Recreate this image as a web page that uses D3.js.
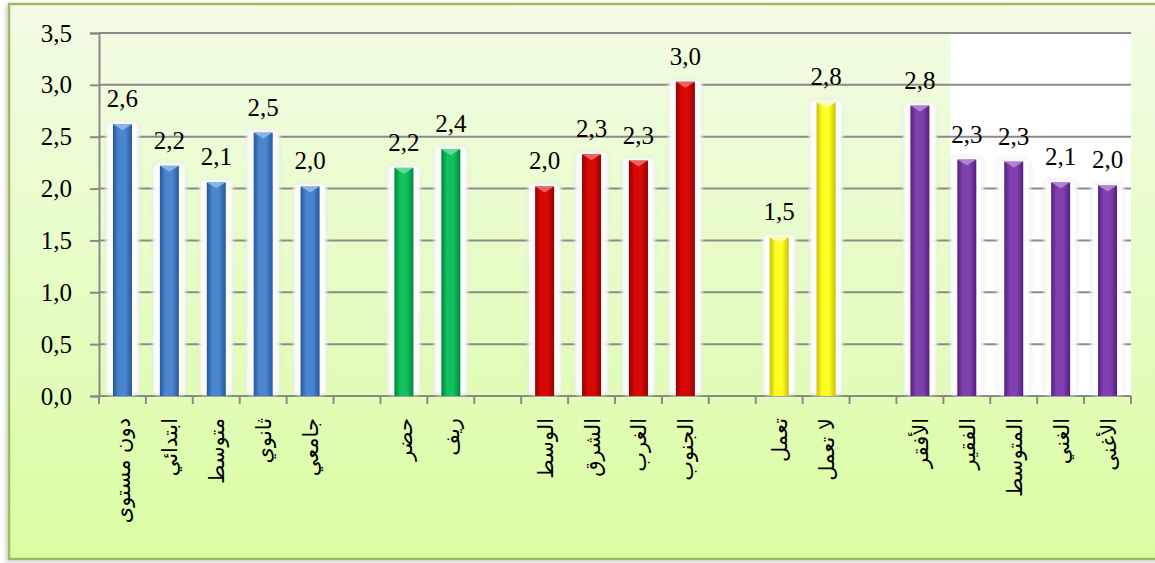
<!DOCTYPE html>
<html>
<head>
<meta charset="utf-8">
<script src="https://cdn.jsdelivr.net/npm/d3@7"></script>
<style>
  html, body { margin: 0; padding: 0; background: #ffffff; }
  svg { display: block; }
  .num { font-family: "Liberation Serif", "Times New Roman", Times, "DejaVu Serif", "Noto Serif", serif; font-size: 25px; fill: #000; }
  .cat { font-family: "DejaVu Sans", sans-serif; font-size: 21px; fill: #000; }
</style>
</head>
<body>
<svg id="chart" width="1155" height="563"></svg>
<script>
// Category labels, left to right, with empty slots between the groups
const categories = [
  "دون مستوى", "ابتدائي", "متوسط", "ثانوي", "جامعي", "",
  "حضر", "ريف", "",
  "الوسط", "الشرق", "الغرب", "الجنوب", "",
  "تعمل", "لا تعمل", "",
  "الأفقر", "الفقير", "المتوسط", "الغني", "الأغنى"
];
// Mean values per category (null = gap slot)
const values = [
  2.62, 2.22, 2.06, 2.54, 2.02, null,
  2.20, 2.38, null,
  2.02, 2.33, 2.27, 3.03, null,
  1.53, 2.83, null,
  2.80, 2.28, 2.26, 2.06, 2.03
];
// Group of each slot (colour family)
const groups = [
  "edu", "edu", "edu", "edu", "edu", null,
  "area", "area", null,
  "region", "region", "region", "region", null,
  "work", "work", null,
  "wealth", "wealth", "wealth", "wealth", "wealth"
];
const yTicks = [0, 0.5, 1, 1.5, 2, 2.5, 3, 3.5];

const palette = {
  edu:    { mid: "#4a86cf", dark: "#28579a", cap: "#8fb8ea" },
  area:   { mid: "#12c05e", dark: "#00873a", cap: "#6be09c" },
  region: { mid: "#d80808", dark: "#950000", cap: "#f06a6a" },
  work:   { mid: "#ffff20", dark: "#c8c000", cap: "#ffffa8" },
  wealth: { mid: "#8040b0", dark: "#55207e", cap: "#b48ad6" }
};

const svg = d3.select("#chart");
const defs = svg.append("defs");

// Chart area background
const bg = defs.append("linearGradient").attr("id", "bgGrad")
  .attr("x1", 0).attr("y1", 0).attr("x2", 0).attr("y2", 1);
bg.append("stop").attr("offset", "0%").attr("stop-color", "#f2fce6");
bg.append("stop").attr("offset", "100%").attr("stop-color", "#dafda2");

const shadow = defs.append("filter").attr("id", "frameShadow")
  .attr("x", "-5%").attr("y", "-5%").attr("width", "110%").attr("height", "110%");
shadow.append("feDropShadow").attr("dx", -2).attr("dy", 2).attr("stdDeviation", 2)
  .attr("flood-color", "#000").attr("flood-opacity", 0.18);

const glow = defs.append("filter").attr("id", "glow")
  .attr("x", "-50%").attr("y", "-10%").attr("width", "200%").attr("height", "120%");
glow.append("feGaussianBlur").attr("stdDeviation", 1.5);

Object.entries(palette).forEach(([k, c]) => {
  const g = defs.append("linearGradient").attr("id", "bar-" + k)
    .attr("x1", 0).attr("y1", 0).attr("x2", 1).attr("y2", 0);
  g.append("stop").attr("offset", "0%").attr("stop-color", c.dark);
  g.append("stop").attr("offset", "30%").attr("stop-color", c.mid);
  g.append("stop").attr("offset", "65%").attr("stop-color", c.mid);
  g.append("stop").attr("offset", "100%").attr("stop-color", c.dark);
});

// Outer frame
svg.append("rect")
  .attr("x", 9).attr("y", 4).attr("width", 1160).attr("height", 555)
  .attr("fill", "url(#bgGrad)")
  .attr("stroke", "#9dbd5c").attr("stroke-width", 2.5)
  .attr("filter", "url(#frameShadow)");

const plot = { left: 99, right: 1131, top: 33, bottom: 396 };

const x = d3.scaleBand()
  .domain(d3.range(categories.length))
  .range([plot.left, plot.right])
  .paddingInner(0).paddingOuter(0);

const y = d3.scaleLinear().domain([0, 3.5]).range([plot.bottom, plot.top]);

const fmt = v => d3.format(".1f")(v).replace(".", ",");

// White panel behind the right-hand bars
svg.append("rect")
  .attr("x", x(18) + 7).attr("y", plot.top)
  .attr("width", plot.right - x(18) - 7).attr("height", plot.bottom - plot.top)
  .attr("fill", "#ffffff");

// Gridlines
svg.append("g").selectAll("line").data(yTicks.slice(1)).join("line")
  .attr("x1", plot.left).attr("x2", plot.right)
  .attr("y1", d => y(d)).attr("y2", d => y(d))
  .attr("stroke", "#8a8a8a").attr("stroke-width", 2);

// Y axis
const yAxis = svg.append("g")
  .attr("transform", `translate(${plot.left},0)`)
  .call(d3.axisLeft(y).tickValues(yTicks).tickFormat(fmt).tickSize(9).tickPadding(18));
yAxis.attr("font-family", null).attr("font-size", null);
yAxis.select(".domain").attr("stroke", "#8a8a8a").attr("stroke-width", 2);
yAxis.selectAll(".tick line").attr("stroke", "#8a8a8a").attr("stroke-width", 2);
yAxis.selectAll(".tick text").attr("class", "num").attr("fill", null);

// X axis line and slot ticks
svg.append("line")
  .attr("x1", plot.left).attr("x2", plot.right)
  .attr("y1", plot.bottom).attr("y2", plot.bottom)
  .attr("stroke", "#8a8a8a").attr("stroke-width", 2);
const bounds = d3.range(categories.length + 1).map(i => plot.left + i * x.bandwidth());
svg.append("g").selectAll("line").data(bounds).join("line")
  .attr("x1", d => d).attr("x2", d => d)
  .attr("y1", plot.bottom).attr("y2", plot.bottom + 8)
  .attr("stroke", "#8a8a8a").attr("stroke-width", 2);

// Bars
const barW = 19;
const items = values.map((v, i) => ({ v, i, g: groups[i] })).filter(d => d.v !== null);
const cx = i => x(i) + x.bandwidth() / 2;

const bars = svg.append("g").selectAll("g").data(items).join("g");

// soft white halo behind each bar
bars.append("rect")
  .attr("x", d => cx(d.i) - barW / 2 - 7)
  .attr("y", d => y(d.v) - 3)
  .attr("width", barW + 14)
  .attr("height", d => plot.bottom - y(d.v) + 2)
  .attr("rx", 5)
  .attr("fill", "#ffffff").attr("opacity", 0.95)
  .attr("stroke", "#d8d8d8").attr("stroke-width", 1)
  .attr("filter", "url(#glow)");

bars.append("rect")
  .attr("x", d => cx(d.i) - barW / 2)
  .attr("y", d => y(d.v))
  .attr("width", barW)
  .attr("height", d => plot.bottom - y(d.v))
  .attr("fill", d => `url(#bar-${d.g})`);

// bevelled cap on top of each bar
bars.append("path")
  .attr("d", d => {
    const l = cx(d.i) - barW / 2, r = l + barW, t = y(d.v);
    return `M${l},${t} L${r},${t} L${cx(d.i)},${t + 6} Z`;
  })
  .attr("fill", d => palette[d.g].cap).attr("opacity", 0.9);

// Value labels
svg.append("g").selectAll("text").data(items).join("text")
  .attr("class", "num")
  .attr("x", d => cx(d.i))
  .attr("y", d => y(d.v) - 17)
  .attr("text-anchor", "middle")
  .text(d => fmt(d.v));

// Category labels, rotated
svg.append("g").selectAll("text").data(categories.map((c, i) => ({ c, i })).filter(d => d.c))
  .join("text")
  .attr("class", "cat")
  .attr("transform", d => `translate(${cx(d.i) + 8},${plot.bottom + 22}) rotate(-90)`)
  .attr("text-anchor", "end")
  .text(d => d.c);
</script>
</body>
</html>
